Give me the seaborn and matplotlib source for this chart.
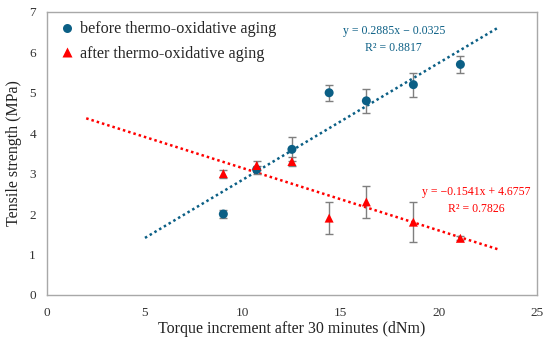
import numpy as np
import pandas as pd
import matplotlib
matplotlib.use("Agg")
import matplotlib.pyplot as plt
import seaborn as sns

# ---- data ----
x_vals = [9.0, 10.7, 12.5, 14.4, 16.3, 18.7, 21.1]
before_y = [2.0, 3.1, 3.6, 5.0, 4.8, 5.2, 5.7]
before_err = [0.1, 0.1, 0.3, 0.2, 0.3, 0.3, 0.2]
after_y = [3.0, 3.2, 3.3, 1.9, 2.3, 1.8, 1.4]
after_err = [0.1, 0.1, 0.1, 0.4, 0.4, 0.5, 0.05]

before_fit = (0.2885, -0.0325)
after_fit = (-0.1541, 4.6757)
before_fit_range = (5.0, 23.0)
after_fit_range = (2.0, 23.0)
before_eq = "y = 0.2885x \u2212 0.0325\nR\u00b2 = 0.8817"
after_eq = "y = \u22120.1541x + 4.6757\nR\u00b2 = 0.7826"

x_ticks = [0, 5, 10, 15, 20, 25]
y_ticks = [0, 1, 2, 3, 4, 5, 6, 7]

blue = "#0B5F85"
red = "#FF0000"

sns.set_theme(style="white")
plt.rcParams['font.family'] = ['Liberation Serif', 'DejaVu Serif']

fig = plt.figure(figsize=(5.5, 3.39), dpi=100)
ax = fig.add_axes([0.0855, 0.13, 0.8905, 0.835])

df = pd.DataFrame({
    "x": x_vals * 2,
    "y": before_y + after_y,
    "err": before_err + after_err,
    "series": ["before thermo-oxidative aging"] * len(x_vals) + ["after thermo-oxidative aging"] * len(x_vals),
})

# trend lines
for (m, b), (x0, x1), col in [(before_fit, before_fit_range, blue), (after_fit, after_fit_range, red)]:
    xs = np.array([x0, x1])
    ax.plot(xs, m * xs + b, linestyle=(0, (1, 1.2)), color=col, lw=1.8, zorder=1)

# error bars
ax.errorbar(x_vals, after_y, yerr=after_err, fmt="none", ecolor="#7f7f7f", elinewidth=1, capsize=3, capthick=1, zorder=2)
ax.errorbar(x_vals, before_y, yerr=before_err, fmt="none", ecolor="#7f7f7f", elinewidth=1, capsize=3, capthick=1, zorder=2)

sns.scatterplot(data=df, x="x", y="y", hue="series", style="series",
                markers={"before thermo-oxidative aging": "o", "after thermo-oxidative aging": "^"},
                palette={"before thermo-oxidative aging": blue, "after thermo-oxidative aging": red},
                s=42, edgecolor="none", ax=ax, zorder=3,
                hue_order=["after thermo-oxidative aging", "before thermo-oxidative aging"])

h, l = ax.get_legend_handles_labels()
order = [l.index("before thermo-oxidative aging"), l.index("after thermo-oxidative aging")]
ax.legend([h[i] for i in order], [l[i] for i in order], loc="upper left", frameon=False,
          fontsize=11.6, handletextpad=-0.2, borderaxespad=0.0, labelspacing=0.55,
          bbox_to_anchor=(-0.005, 0.99))

ax.text(17.7, 6.32, before_eq, color=blue, fontsize=8.5, ha="center", va="center", linespacing=1.55)
ax.text(21.9, 2.33, after_eq, color=red, fontsize=8.5, ha="center", va="center", linespacing=1.55)

ax.set_xlim(0, 25)
ax.set_ylim(0, 7)
ax.set_xticks(x_ticks)
ax.set_yticks(y_ticks)
ax.tick_params(axis="both", labelsize=9.5, colors="#333333", length=0)
ax.tick_params(axis="x", pad=9)
ax.tick_params(axis="y", pad=8)
ax.set_xlabel("Torque increment after 30 minutes (dNm)", fontsize=11.5, color="#222222", labelpad=1)
ax.set_ylabel("Tensile strength (MPa)", fontsize=11.5, color="#222222", labelpad=5)
for s in ax.spines.values():
    s.set_color("#a8a8a8")
    s.set_linewidth(1.0)

fig.savefig("out.png", dpi=100)
